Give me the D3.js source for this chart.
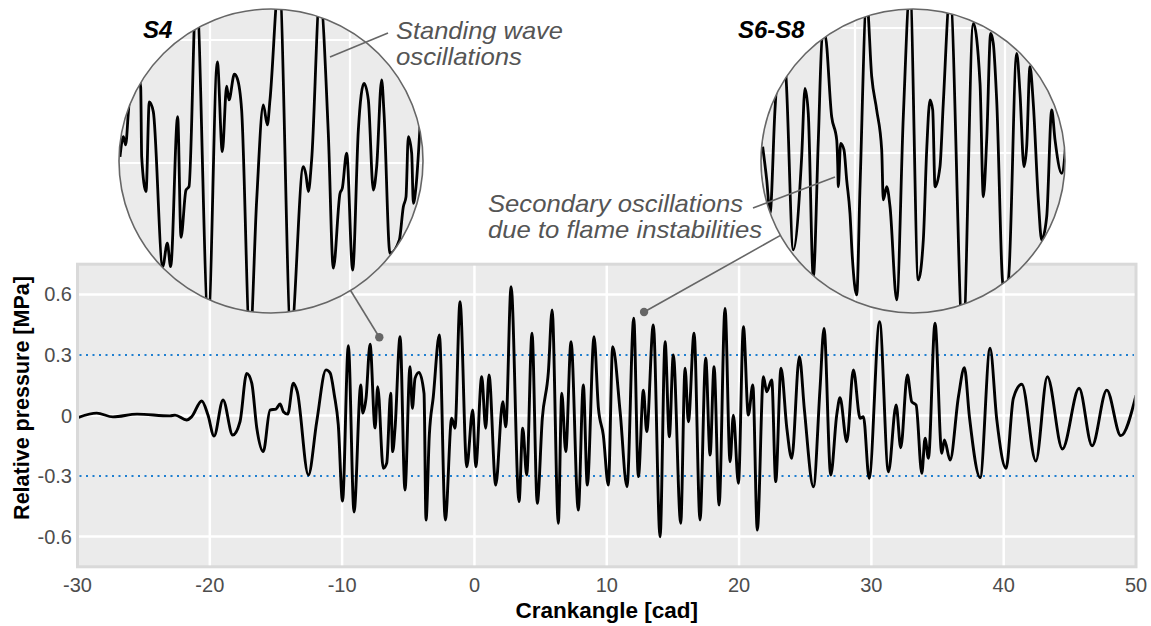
<!DOCTYPE html>
<html><head><meta charset="utf-8">
<script src="https://cdn.jsdelivr.net/npm/d3@7"></script>
<style>
body{margin:0;background:#fff}
svg{display:block}
text{font-family:"Liberation Sans",Arial,Helvetica,sans-serif}
</style>
</head><body>
<svg id="chart" width="1151" height="626"></svg>
<script>
// ---------------- DATA ----------------
const crankAngle = [-30.0,-28.55,-27.32,-25.50,-23.01,-22.63,-21.75,-21.37,-20.61,-20.14,
-19.68,-19.00,-18.27,-17.72,-17.21,-16.83,-16.45,-15.96,-15.45,-15.00,
-14.69,-14.44,-14.11,-13.69,-13.39,-12.55,-11.92,-11.22,-10.91,-10.59,
-10.29,-9.97,-9.53,-9.10,-8.59,-8.44,-8.19,-7.89,-7.51,-7.31,
-6.89,-6.63,-6.33,-6.18,-6.00,-5.62,-5.25,-4.87,-4.69,-4.49,
-4.19,-3.81,-3.66,-3.41,-3.11,-2.65,-2.20,-1.72,-1.47,-1.09,
-0.58,-0.13,0.10,0.55,0.85,1.10,1.61,2.14,2.37,2.77,
3.37,3.65,3.95,4.35,4.75,5.13,5.59,5.87,6.34,6.60,
6.90,7.30,7.85,8.23,8.53,9.04,9.37,9.74,10.12,10.45,
11.01,11.53,12.04,12.39,12.77,13.02,13.52,14.03,14.41,14.73,
15.03,15.59,15.92,16.17,16.60,17.05,17.48,17.81,18.11,18.49,
18.94,19.32,19.57,19.95,20.33,20.70,21.04,21.38,21.84,22.09,
22.47,22.77,23.17,23.61,23.98,24.56,24.94,25.62,26.12,26.42,
26.93,27.38,27.63,28.14,28.64,29.15,29.40,29.83,30.62,31.29,
31.87,32.22,32.72,33.05,33.38,33.81,34.06,34.31,34.81,35.32,
35.52,35.95,36.58,37.03,37.41,38.22,38.97,39.48,40.18,40.73,
41.37,42.43,43.30,44.44,45.70,46.68,47.79,48.85,50.00];
const pressure = [-0.011,0.012,-0.007,0.007,-0.002,0.002,-0.022,-0.006,0.072,0.002,
-0.102,0.077,-0.097,-0.031,0.209,0.161,-0.062,-0.179,0.027,0.032,
0.057,0.019,0.007,0.160,0.118,-0.295,-0.031,0.226,0.211,0.102,
-0.047,-0.424,0.346,-0.478,0.151,0.012,0.087,0.353,-0.062,0.143,
-0.262,-0.236,0.110,-0.179,-0.063,0.391,-0.369,0.242,0.036,0.184,
0.214,0.110,-0.518,-0.097,0.093,0.399,-0.518,-0.014,-0.063,0.564,
-0.254,0.027,-0.254,0.192,-0.063,0.201,-0.345,0.068,-0.056,0.639,
-0.427,-0.063,-0.295,0.408,-0.435,-0.014,0.217,0.523,-0.534,0.110,
-0.179,0.366,-0.469,0.151,-0.345,0.391,0.036,-0.097,-0.345,0.341,
0.019,-0.353,0.482,-0.303,0.126,-0.080,0.449,-0.601,0.366,-0.105,
0.300,-0.534,0.234,-0.031,0.408,-0.518,0.284,-0.196,0.242,-0.444,
0.531,-0.229,0.002,-0.336,0.440,0.002,0.151,-0.568,0.192,0.118,
0.176,-0.328,0.234,-0.063,-0.212,0.292,0.027,-0.353,0.135,0.432,
-0.295,0.002,0.088,-0.130,0.226,-0.014,-0.006,-0.311,0.465,-0.279,
0.052,-0.160,0.201,0.068,0.052,-0.287,-0.113,-0.212,0.457,-0.187,
-0.121,-0.221,0.093,0.237,-0.006,-0.308,0.333,-0.022,-0.262,0.085,
0.155,-0.226,0.192,-0.166,0.135,-0.150,0.126,-0.100,0.100];

// Inset S4 (magnified sensor trace)
const s4Angle = [-9.286,-9.238,-9.205,-9.167,-9.10,-8.990,-8.976,-8.914,-8.867,-8.810,
-8.676,-8.610,-8.562,-8.462,-8.414,-8.343,-8.300,-8.197,-8.024,-7.895,
-7.824,-7.762,-7.729,-7.652,-7.610,-7.548,-7.429,-7.333,-7.238,-7.181,
-7.143,-7.012,-6.843,-6.667,-6.629,-6.595,-6.548,-6.43,-6.310,-6.238,
-6.143,-6.110,-6.048,-5.962,-5.881,-5.800,-5.738,-5.667,-5.619,-5.548,
-5.514,-5.429,-5.295,-5.238,-5.200,-5.167,-5.119,-5.095,-5.057,-5.000];
const s4Pressure = [0.420,0.486,0.459,0.562,0.75,0.646,0.420,0.307,0.599,0.567,
0.063,0.139,0.063,0.551,0.158,0.312,0.323,0.963,-0.111,0.729,
0.437,0.650,0.605,0.689,0.675,0.572,-0.176,0.280,0.589,0.524,
0.605,0.995,-0.159,0.388,0.361,0.307,0.410,0.946,0.497,0.058,
0.301,0.318,0.432,0.052,0.507,0.659,0.605,0.312,0.388,0.670,
0.562,0.106,0.150,0.258,0.290,0.486,0.432,0.269,0.323,0.518];

// Inset S6-S8
const s68Angle = [10.769,10.823,10.867,10.933,11.013,11.080,11.177,11.289,11.333,11.377,
11.444,11.511,11.564,11.600,11.689,11.756,11.770,11.777,11.809,11.853,
11.889,11.933,11.964,12.023,12.067,12.156,12.223,12.289,12.356,12.377,
12.423,12.467,12.556,12.644,12.733,12.844,12.911,12.956,13.000,13.036,
13.067,13.133,13.177,13.267,13.44,13.577,13.667,13.711,13.756,13.809,
13.844,13.889,13.977,14.044,14.156,14.200,14.253,14.289,14.333,14.377,
14.444,14.489,14.556,14.623,14.667,14.756,14.823];
const s68Pressure = [0.420,0.314,0.207,0.538,0.762,0.644,0.090,0.388,0.607,0.527,
0.004,0.442,0.772,0.778,0.516,0.442,0.360,0.292,0.431,0.410,
0.314,0.207,0.068,-0.054,0.292,0.890,0.644,0.538,0.410,0.250,
0.292,0.228,-0.070,0.516,0.922,-0.006,0.122,0.410,0.570,0.538,
0.292,0.356,0.559,0.906,-0.198,0.815,0.623,0.260,0.442,0.783,
0.751,0.570,-0.028,-0.006,0.719,0.591,0.356,0.420,0.676,0.559,
0.250,0.122,0.196,0.538,0.442,0.335,0.463];

const xTicks = [-30,-20,-10,0,10,20,30,40,50];
const yTicks = [-0.6,-0.3,0,0.3,0.6];
const yGrid = [-0.6,0,0.6];
const thresholds = [-0.3,0.3];
const s4XTicks = [-8,-6], s68XTicks = [12,14], insetYTicks = [0.4,0.8];
const markerAngle = [-7.19, 12.82];
const markerPressure = [0.388, 0.513];

// ---------------- LAYOUT ----------------
const svg = d3.select("#chart");
const x = d3.scaleLinear([-30,50],[77.5,1136]);
const y = d3.scaleLinear([-0.75,0.75],[566.8,264.2]);
const x0 = x.range()[0], x1 = x.range()[1], yT = y.range()[1], yB = y.range()[0];

svg.append("rect").attr("width",1151).attr("height",626).attr("fill","#fff");

svg.append("rect").attr("x",x0).attr("y",yT).attr("width",x1-x0).attr("height",yB-yT)
  .attr("fill","#ebebeb").attr("stroke","#d9d9d9").attr("stroke-width",3);

const grid = svg.append("g");
grid.selectAll(".gx").data(xTicks.filter(d=>d>-30&&d<50)).join("line")
  .attr("x1",d=>x(d)).attr("x2",d=>x(d)).attr("y1",yT+1.5).attr("y2",yB-1.5)
  .attr("stroke","#fff").attr("stroke-width",2.5);
grid.selectAll(".gy").data(yGrid).join("line")
  .attr("x1",x0+1.5).attr("x2",x1-1.5).attr("y1",d=>y(d)).attr("y2",d=>y(d))
  .attr("stroke","#fff").attr("stroke-width",2.5);
grid.selectAll(".th").data(thresholds).join("line")
  .attr("x1",x0+2).attr("x2",x1-2).attr("y1",d=>y(d)).attr("y2",d=>y(d))
  .attr("stroke","#1f7fd0").attr("stroke-width",2).attr("stroke-dasharray","2 4.5");

svg.append("clipPath").attr("id","pclip").append("rect")
  .attr("x",x0+1.5).attr("y",yT+1.5).attr("width",x1-x0-3).attr("height",yB-yT-3);

const mainData = crankAngle.map((c,i)=>[c,pressure[i]]);
svg.append("path").datum(mainData).attr("clip-path","url(#pclip)")
  .attr("fill","none").attr("stroke","#000").attr("stroke-width",2.9).attr("stroke-linejoin","round")
  .attr("d", d3.line().x(d=>x(d[0])).y(d=>y(d[1])).curve(d3.curveMonotoneX));

const tickColor = "#4d4d4d";
svg.selectAll(".xl").data(xTicks).join("text")
  .attr("x",d=>x(d)).attr("y",592).attr("text-anchor","middle")
  .attr("font-size",20).attr("fill",tickColor).text(d=>String(d));
svg.selectAll(".yl").data(yTicks).join("text")
  .attr("x",72).attr("y",d=>y(d)+7).attr("text-anchor","end")
  .attr("font-size",20).attr("fill",tickColor).text(d=>d===0?"0":d.toFixed(1));
svg.append("text").attr("x",(x0+x1)/2).attr("y",618).attr("text-anchor","middle")
  .attr("font-size",22.5).attr("font-weight","bold").attr("fill","#000").text("Crankangle [cad]");
svg.append("text").attr("transform","translate(29,398) rotate(-90)").attr("text-anchor","middle")
  .attr("font-size",21.5).attr("font-weight","bold").attr("fill","#000").text("Relative pressure [MPa]");

// ---------------- INSETS ----------------
const insets = [
  {id:"s4", label:"S4", lx:143, cx:271, cy:161, r:152,
   sx:d3.scaleLinear([-8,-6],[210,350]), sy:d3.scaleLinear([0.4,0.8],[163,40]),
   xt:s4XTicks, ang:s4Angle, pr:s4Pressure, m:0},
  {id:"s68", label:"S6-S8", lx:738, cx:913, cy:161, r:152,
   sx:d3.scaleLinear([12,14],[855,1005]), sy:d3.scaleLinear([0.4,0.8],[153,28]),
   xt:s68XTicks, ang:s68Angle, pr:s68Pressure, m:1}
];

const annoColor = "#666";
insets.forEach(ins=>{
  const mx = x(markerAngle[ins.m]), my = y(markerPressure[ins.m]);
  const dx = mx-ins.cx, dy = my-ins.cy, dd = Math.hypot(dx,dy);
  svg.append("line").attr("x1",mx).attr("y1",my)
    .attr("x2",ins.cx+ins.r*dx/dd).attr("y2",ins.cy+ins.r*dy/dd)
    .attr("stroke",annoColor).attr("stroke-width",1.6);
  svg.append("circle").attr("cx",mx).attr("cy",my).attr("r",4.2).attr("fill",annoColor);

  svg.append("clipPath").attr("id","clip-"+ins.id).append("circle")
    .attr("cx",ins.cx).attr("cy",ins.cy).attr("r",ins.r);
  const g = svg.append("g").attr("clip-path","url(#clip-"+ins.id+")");
  g.append("circle").attr("cx",ins.cx).attr("cy",ins.cy).attr("r",ins.r).attr("fill","#ebebeb");
  g.selectAll(".vx").data(ins.xt).join("line")
    .attr("x1",d=>ins.sx(d)).attr("x2",d=>ins.sx(d)).attr("y1",ins.cy-ins.r).attr("y2",ins.cy+ins.r)
    .attr("stroke","#fff").attr("stroke-width",2.2);
  g.selectAll(".hy").data(insetYTicks).join("line")
    .attr("x1",ins.cx-ins.r).attr("x2",ins.cx+ins.r).attr("y1",d=>ins.sy(d)).attr("y2",d=>ins.sy(d))
    .attr("stroke","#fff").attr("stroke-width",2.2);
  const data = ins.ang.map((c,i)=>[c,ins.pr[i]]);
  g.append("path").datum(data).attr("fill","none").attr("stroke","#000").attr("stroke-width",2.8)
    .attr("stroke-linejoin","round")
    .attr("d", d3.line().x(d=>ins.sx(d[0])).y(d=>ins.sy(d[1])).curve(d3.curveMonotoneX));
  svg.append("circle").attr("cx",ins.cx).attr("cy",ins.cy).attr("r",ins.r)
    .attr("fill","none").attr("stroke",annoColor).attr("stroke-width",1.6);
  svg.append("text").attr("x",ins.lx).attr("y",38).attr("font-size",24)
    .attr("font-weight","bold").attr("font-style","italic").attr("fill","#000").text(ins.label);
});

// ---------------- ANNOTATION TEXTS ----------------
const s4 = insets[0], s68 = insets[1];
svg.append("line").attr("x1",s4.sx(-5.457)).attr("y1",s4.sy(0.823))
  .attr("x2",s4.sx(-6.286)).attr("y2",s4.sy(0.745)).attr("stroke",annoColor).attr("stroke-width",1.6);
svg.append("line").attr("x1",s68.sx(10.64)).attr("y1",s68.sy(0.224))
  .attr("x2",s68.sx(11.733)).attr("y2",s68.sy(0.323)).attr("stroke",annoColor).attr("stroke-width",1.6);

const annoLine = (tx, ty, str, w) => {
  svg.append("text").attr("x",tx).attr("y",ty).attr("font-size",23.2)
    .attr("font-style","italic").attr("fill","#555")
    .attr("textLength",w).attr("lengthAdjust","spacingAndGlyphs").text(str);
};
annoLine(396, 38.5, "Standing wave", 167);
annoLine(396, 64.5, "oscillations", 126);
annoLine(488, 211.5, "Secondary oscillations", 255);
annoLine(488, 237.5, "due to flame instabilities", 274);
</script>
</body></html>
